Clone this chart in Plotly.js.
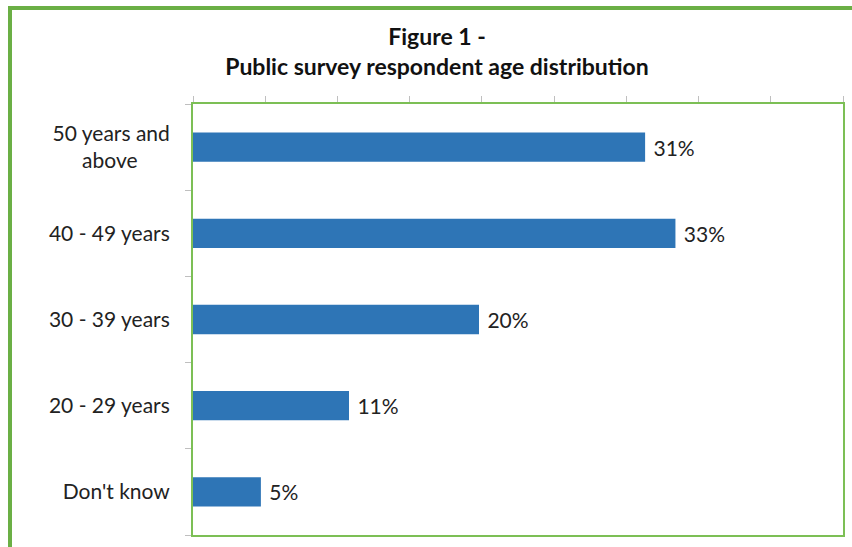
<!DOCTYPE html>
<html>
<head>
<meta charset="utf-8">
<script src="https://cdn.plot.ly/plotly-3.0.1.min.js"></script>
<style>
  html, body { margin: 0; padding: 0; width: 852px; height: 547px; overflow: hidden; background: #ffffff; }
  #frame { position: absolute; left: 8px; top: 6px; width: 900px; height: 600px; border: 4px solid #6BAF45; box-sizing: border-box; }
  #chart { position: absolute; left: 0; top: 0; width: 852px; height: 547px; }
</style>
</head>
<body>
<div id="frame"></div>
<div id="chart"></div>
<script>
// Data (bottom to top)
const categories = ["Don't know", "20 - 29 years", "30 - 39 years", "40 - 49 years", "50 years and above"];
const tickLabels = ["Don't know", "20 - 29 years", "30 - 39 years", "40 - 49 years", "50 years and<br>above\u00a0\u00a0\u00a0\u00a0\u00a0\u00a0"];
const percentages = [4.7, 10.8, 19.8, 33.4, 31.3];
const titleLines = ["Figure 1 -", "Public survey respondent age distribution"];

const fontFam = "Lato, 'Open Sans', sans-serif";

const trace = {
  type: 'bar',
  orientation: 'h',
  y: categories,
  x: percentages,
  marker: { color: '#2E75B6', line: { width: 0 } },
  texttemplate: '\u00a0%{x:.0f}%',
  textposition: 'outside',
  cliponaxis: false,
  textfont: { family: fontFam, size: 21, color: '#222222' },
  hoverinfo: 'none'
};

const layout = {
  width: 852,
  height: 547,
  margin: { l: 193, r: 9, t: 104, b: 12 },
  paper_bgcolor: 'rgba(0,0,0,0)',
  plot_bgcolor: '#ffffff',
  showlegend: false,
  bargap: 0.66,
  title: {
    text: '<b>' + titleLines[0] + '</b><br><b>' + titleLines[1] + '</b>',
    font: { family: fontFam, size: 23, color: '#111111' },
    x: 437 / 852,
    xref: 'container',
    xanchor: 'center',
    y: 1 - 45 / 547,
    yref: 'container',
    yanchor: 'middle'
  },
  xaxis: {
    side: 'top',
    range: [0, 45],
    dtick: 5,
    showgrid: false,
    zeroline: false,
    showticklabels: false,
    ticks: 'outside',
    ticklen: 6,
    tickcolor: '#BFBFBF',
    showline: true,
    linecolor: '#7CBF55',
    linewidth: 2,
    mirror: true,
    fixedrange: true
  },
  yaxis: {
    type: 'category',
    categoryorder: 'array',
    categoryarray: categories,
    tickmode: 'array',
    tickvals: categories,
    ticktext: tickLabels,
    tickson: 'boundaries',
    ticks: 'outside',
    ticklen: 6,
    tickcolor: '#BFBFBF',
    showgrid: false,
    zeroline: false,
    showline: true,
    linecolor: '#7CBF55',
    linewidth: 2,
    mirror: true,
    ticklabelstandoff: 17,
    tickfont: { family: fontFam, size: 21, color: '#222222' },
    fixedrange: true
  }
};

Plotly.newPlot('chart', [trace], layout, { displayModeBar: false, staticPlot: true });
</script>
</body>
</html>
